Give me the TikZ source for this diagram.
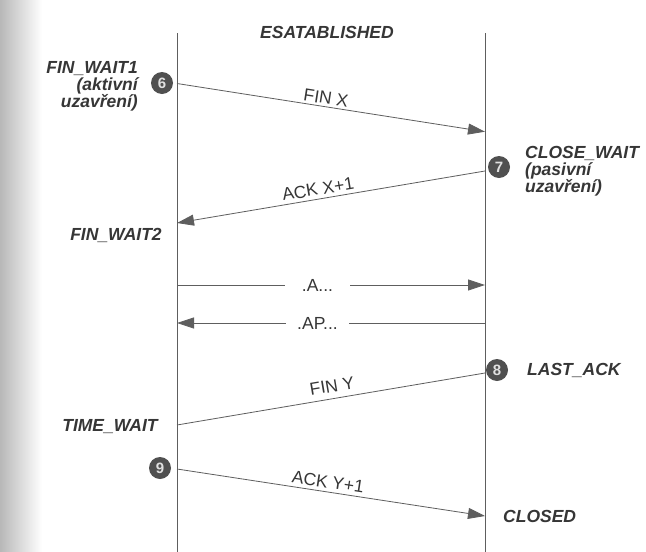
\documentclass[tikz,border=0pt]{standalone}
\usepackage{fontspec}
\setmainfont{Liberation Sans}
\usetikzlibrary{arrows.meta}
\definecolor{ink}{HTML}{363636}
\definecolor{linegray}{HTML}{5E5E5E}
\definecolor{numfill}{HTML}{505050}
\begin{document}
\begin{tikzpicture}[x=1pt,y=-1pt,
  state/.style={font=\fontsize{17.5}{17}\selectfont\bfseries\itshape, text=ink, inner sep=0pt},
  msg/.style={font=\fontsize{17.5}{18}\selectfont, text=ink, inner sep=1pt},
  num/.style={circle, fill=numfill, text=white!88!black, font=\fontsize{15}{15}\selectfont\bfseries, minimum size=22pt, inner sep=0pt},
  life/.style={draw=linegray, line width=0.6pt},
  arr/.style={draw=linegray, line width=0.8pt, -{Triangle[length=17pt,width=11pt]}},
  plain/.style={draw=linegray, line width=0.8pt},
  gap/.style={msg, fill=white, inner ysep=2pt},
]
\useasboundingbox (0,0) rectangle (646,552);
\fill[white] (0,0) rectangle (646,552);
\shade[left color=black!28, right color=white] (0,0) rectangle (42,552);

% lifelines
\coordinate (Ltop) at (177,33);
\coordinate (Lbot) at (177,552);
\coordinate (Rtop) at (485,33);
\coordinate (Rbot) at (485,552);
\draw[life] (Ltop) -- (Lbot);
\draw[life] (Rtop) -- (Rbot);

\node[state] (est) at (327,32) {ESATABLISHED};

% step 6
\node[num] (c6) at (162,83) {6};
\node[state, align=right, anchor=east] (fw1) at (138,86) {FIN\_WAIT1\\(aktivní\\uzavření)};
\coordinate (s6) at (177,83.5);
\coordinate (e6) at (485,131.7);
\draw[arr] (s6) -- (e6);
\node[msg, rotate=-8.9] (finx) at (326,98) {FIN X};

% step 7
\node[num] (c7) at (499,167) {7};
\node[state, align=left, anchor=west] (cw) at (525,171.5) {CLOSE\_WAIT\\(pasivní\\uzavření)};
\coordinate (s7) at (485,171);
\coordinate (e7) at (177,223);
\draw[arr] (s7) -- (e7);
\node[msg, rotate=9.6] (ackx) at (318,189) {ACK X+1};
\node[state] (fw2) at (116,235) {FIN\_WAIT2};

% data
\coordinate (sa) at (177,285);
\coordinate (ea) at (485,285);
\draw[arr] (sa) -- (ea);
\node[gap, inner xsep=17pt] (dA) at (317.5,285) {.A...};
\coordinate (sap) at (485,323);
\coordinate (eap) at (177,323);
\draw[arr] (sap) -- (eap);
\node[gap, inner xsep=11pt] (dAP) at (317.5,323) {.AP...};

% step 8
\node[num] (c8) at (497,370) {8};
\node[state, anchor=west] (la) at (527,370) {LAST\_ACK};
\coordinate (s8) at (485,373);
\coordinate (e8) at (177,425);
\draw[plain] (s8) -- (e8);
\node[msg, rotate=9.6] (finy) at (332,386) {FIN Y};
\node[state] (tw) at (110,427) {TIME\_WAIT};

% step 9
\node[num] (c9) at (160,468) {9};
\coordinate (s9) at (177,469);
\coordinate (e9) at (485,516);
\draw[arr] (s9) -- (e9);
\node[msg, rotate=-8.7] (acky) at (328,482) {ACK Y+1};
\node[state, anchor=west] (cl) at (503,516) {CLOSED};
\end{tikzpicture}
\end{document}
